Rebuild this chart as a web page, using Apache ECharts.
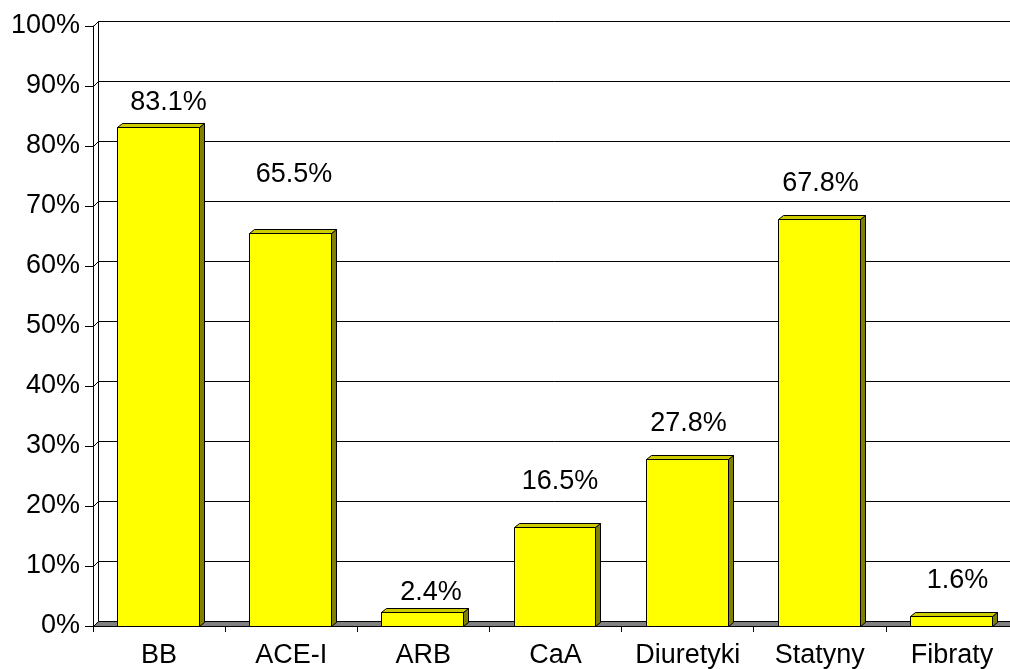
<!DOCTYPE html>
<html>
<head>
<meta charset="utf-8">
<script src="https://cdn.jsdelivr.net/npm/echarts@6/dist/echarts.min.js"></script>
<style>
  html, body { margin: 0; padding: 0; background: #ffffff; }
  #chart { width: 1010px; height: 669px; }
</style>
</head>
<body>
<div id="chart"></div>
<script>
// Drug classes and the share of patients receiving each one (%)
const categories = ['BB', 'ACE-I', 'ARB', 'CaA', 'Diuretyki', 'Statyny', 'Fibraty'];
const shares = [83.1, 65.5, 2.4, 16.5, 27.8, 67.8, 1.6];
// Value-axis ticks (%)
const yTicks = [0, 10, 20, 30, 40, 50, 60, 70, 80, 90, 100];

// Layout of the pseudo-3D look
const DEPTH = [5, 5];          // back-plane shift: right, up
const BAR_DEPTH = [5, 4];      // column depth: right, up
const BAR_FRACTION = 0.62;     // column width relative to the category band
// Per-column value-label nudge from the top-front centre of its column [dx, dy]
const labelNudge = [[10, -25], [3.5, -58.5], [8.5, -20], [5, -45.5], [1, -36], [1, -36], [6, -36]];

const FONT = '"Liberation Sans", Arial, sans-serif';
const px = function (v) { return Math.round(v) + 0.5; };   // crisp 1px strokes
const chart = echarts.init(document.getElementById('chart'), null, { renderer: 'canvas' });

// Floor, left wall and back-wall gridlines
function renderFrame(params, api) {
  const cs = params.coordSys;
  const [dx, dy] = DEPTH;
  const xL = px(cs.x), xR = px(cs.x + cs.width);
  const y0 = px(api.coord([0, 0])[1]);
  const y100 = px(api.coord([0, 100])[1]);
  const children = [];
  yTicks.forEach(function (t) {
    const y = px(api.coord([0, t])[1]);
    children.push({
      type: 'polyline',
      shape: { points: [[xL, y], [xL + dx, y - dy], [xR + dx, y - dy]] },
      style: { stroke: '#000', lineWidth: 1, fill: null }
    });
  });
  children.push({
    type: 'line',
    shape: { x1: xL + dx, y1: y0 - dy, x2: xL + dx, y2: y100 - dy },
    style: { stroke: '#000', lineWidth: 1 }
  });
  children.push({
    type: 'polygon',
    shape: { points: [[xL, y0], [xL + dx, y0 - dy], [xR + dx, y0 - dy], [xR, y0]] },
    style: { fill: '#808080', stroke: '#000', lineWidth: 1 }
  });
  return { type: 'group', children: children };
}

// One pseudo-3D column with its value label
function renderColumn(params, api) {
  const i = api.value(0);
  const v = api.value(1);
  const top = api.coord([i, v]);
  const base = api.coord([i, 0]);
  const bw = api.size([1, 0])[0] * BAR_FRACTION;
  const cx = top[0] - 1;
  const x0 = px(cx - bw / 2), x1 = px(cx + bw / 2);
  const yT = px(top[1]), yB = px(base[1]);
  const [dx, dy] = BAR_DEPTH;
  const nudge = labelNudge[params.dataIndex];
  return {
    type: 'group',
    children: [
      {
        type: 'polygon',
        shape: { points: [[x1, yB], [x1 + dx, yB - dy], [x1 + dx, yT - dy], [x1, yT]] },
        style: { fill: '#808000', stroke: '#000', lineWidth: 1 }
      },
      {
        type: 'polygon',
        shape: { points: [[x0, yT], [x0 + dx, yT - dy], [x1 + dx, yT - dy], [x1, yT]] },
        style: { fill: '#cccc00', stroke: '#000', lineWidth: 1 }
      },
      {
        type: 'rect',
        shape: { x: x0, y: yT, width: x1 - x0, height: yB - yT },
        style: { fill: '#ffff00', stroke: '#000', lineWidth: 1 }
      },
      {
        type: 'text',
        style: {
          text: v.toFixed(1) + '%',
          x: (x0 + x1) / 2 + nudge[0],
          y: yT + nudge[1],
          align: 'center',
          verticalAlign: 'middle',
          font: '27px ' + FONT,
          fill: '#000'
        }
      }
    ]
  };
}

chart.setOption({
  animation: false,
  backgroundColor: '#ffffff',
  grid: { left: 93, top: 26, width: 925, height: 600, containLabel: false, outerBoundsMode: 'none' },
  xAxis: {
    type: 'category',
    data: categories,
    boundaryGap: true,
    z: 10,
    axisLine: { show: true, lineStyle: { color: '#000', width: 1 } },
    axisTick: { show: true, length: 6, alignWithLabel: false, lineStyle: { color: '#000' } },
    axisLabel: { margin: 16, color: '#000', fontSize: 27, fontFamily: FONT, interval: 0 },
    splitLine: { show: false }
  },
  yAxis: {
    type: 'value',
    min: 0,
    max: 100,
    interval: 10,
    z: 10,
    axisLine: { show: true, lineStyle: { color: '#000', width: 1 } },
    axisTick: { show: true, length: 8, lineStyle: { color: '#000' } },
    axisLabel: { margin: 13, color: '#000', fontSize: 27, fontFamily: FONT, formatter: '{value}%' },
    splitLine: { show: false }
  },
  series: [
    {
      type: 'custom',
      renderItem: renderFrame,
      data: [[0, 0]],
      silent: true,
      z: 1
    },
    {
      type: 'custom',
      renderItem: renderColumn,
      data: shares.map(function (v, i) { return [i, v]; }),
      encode: { x: 0, y: 1 },
      z: 3
    }
  ]
});
</script>
</body>
</html>
